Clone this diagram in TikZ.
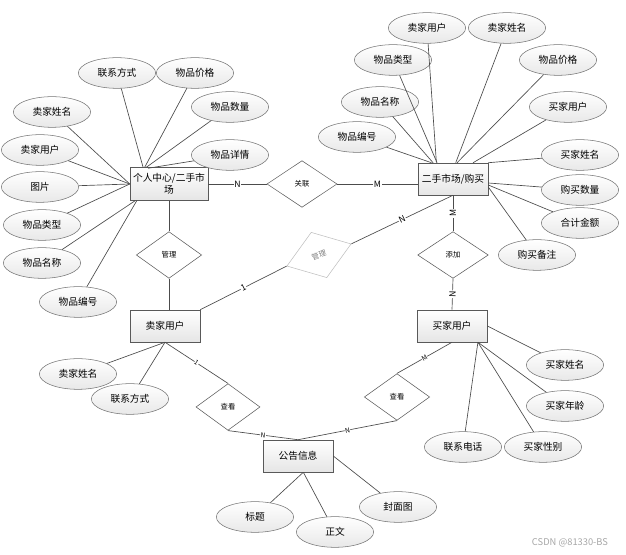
\documentclass[tikz,border=0pt]{standalone}
\usepackage{fontspec}
\newfontfamily\cjk{Noto Sans CJK SC}
\usetikzlibrary{shapes.geometric}

\begin{document}
\begin{tikzpicture}[x=0.75pt,y=-0.75pt,font=\cjk\fontsize{7.3}{9}\selectfont,
	ent/.style={draw=black!65,top color=white,bottom color=black!10,minimum width=52.5pt,minimum height=24pt,inner sep=1pt,align=center},
	att/.style={ellipse,draw=black!55,top color=white,bottom color=black!9,minimum width=58pt,minimum height=23pt,inner sep=0pt},
	rel/.style={diamond,draw=black!65,fill=white,minimum width=52pt,minimum height=35pt,inner sep=0pt,font=\cjk\fontsize{5.5}{6}\selectfont},
	lnk/.style={draw=black!70,line width=0.5pt},
	card/.style={fill=white,inner sep=0.5pt,font=\cjk\fontsize{6.5}{7}\selectfont},
	cardsm/.style={fill=white,inner sep=0.3pt,font=\cjk\fontsize{5}{5}\selectfont}]
%	\draw [help lines] (0,0) grid (626,555);
	\useasboundingbox (0,0) rectangle (626,555);
	% entities
	\node [ent, minimum width=58.5pt, minimum height=24.75pt] (pc) at (169,184) {个人中心/二手市\\场};
	\node [ent] (mk) at (453,179) {二手市场/购买};
	\node [ent] (sb) at (165,326) {卖家用户};
	\node [ent] (bb) at (452,326) {买家用户};
	\node [ent] (nb) at (298,456) {公告信息};
	% relations
	\node [rel, minimum width=52.5pt] (gl) at (302,184) {关联};
	\node [rel, minimum width=49pt] (gm) at (169,255) {管理};
	\node [rel, draw=black!25, text=black!50, minimum width=51pt, minimum height=36pt, rotate=19] (rm) at (319,255) {管理};
	\node [rel, minimum width=53pt] (tj) at (453,255) {添加};
	\node [rel, minimum width=48pt] (ck1) at (228,407) {查看};
	\node [rel, minimum width=49pt] (ck2) at (397,397) {查看};
	% attributes of pc
	\node [att] (pc1) at (117,73) {联系方式};
	\node [att] (pc2) at (195,73) {物品价格};
	\node [att] (pc3) at (230,107) {物品数量};
	\node [att] (pc4) at (230,155) {物品详情};
	\node [att] (pc5) at (52,112) {卖家姓名};
	\node [att] (pc6) at (40,150) {卖家用户};
	\node [att] (pc7) at (40,187) {图片};
	\node [att] (pc8) at (42,225) {物品类型};
	\node [att] (pc9) at (42,263) {物品名称};
	\node [att] (pc10) at (78,302) {物品编号};
	% attributes of mk
	\node [att] (mk1) at (427,28) {卖家用户};
	\node [att] (mk2) at (507,28) {卖家姓名};
	\node [att] (mk3) at (393,60) {物品类型};
	\node [att] (mk4) at (558,60) {物品价格};
	\node [att] (mk5) at (380,102) {物品名称};
	\node [att] (mk6) at (568,107) {买家用户};
	\node [att] (mk7) at (357,137) {物品编号};
	\node [att] (mk8) at (580,155) {买家姓名};
	\node [att] (mk9) at (580,190) {购买数量};
	\node [att] (mk10) at (580,223) {合计金额};
	\node [att] (mk11) at (537,255) {购买备注};
	% attributes of sb, bb, nb
	\node [att] (sb1) at (78,374) {卖家姓名};
	\node [att] (sb2) at (130,399) {联系方式};
	\node [att] (bb1) at (565,365) {买家姓名};
	\node [att] (bb2) at (565,406) {买家年龄};
	\node [att] (bb3) at (463,447) {联系电话};
	\node [att] (bb4) at (543,447) {买家性别};
	\node [att] (nb1) at (255,517) {标题};
	\node [att] (nb2) at (335,532) {正文};
	\node [att] (nb3) at (398,507) {封面图};
	% attribute lines
	\draw [lnk] (pc1) -- ([xshift=10pt]pc.north west);
	\draw [lnk] (pc2) -- ([xshift=11.25pt]pc.north west);
	\draw [lnk] (pc3) -- ([xshift=12.5pt]pc.north west);
	\draw [lnk] (pc4) -- ([xshift=13.75pt,yshift=-0.75pt]pc.north west);
	\foreach \a in {pc5,pc6,pc7,pc8}
		\draw [lnk] (\a) -- (pc.west);
	\draw [lnk] (pc9) -- ([xshift=4pt]pc.south west);
	\draw [lnk] (pc10) -- ([xshift=5.25pt]pc.south west);
	\draw [lnk] (mk7) -- ([xshift=10.3pt]mk.north west);
	\draw [lnk] (mk5) -- ([xshift=11.5pt]mk.north west);
	\draw [lnk] (mk3) -- ([xshift=14.5pt]mk.north west);
	\draw [lnk] (mk1) -- ([xshift=14pt]mk.north west);
	\draw [lnk] (mk2) -- ([xshift=28.5pt]mk.north west);
	\draw [lnk] (mk4) -- ([xshift=29.5pt]mk.north west);
	\draw [lnk] (mk6) -- ([xshift=41.5pt]mk.north west);
	\draw [lnk] (mk8) -- (mk.north east);
	\draw [lnk] (mk9) -- ([yshift=-3pt]mk.east);
	\draw [lnk] (mk10) -- ([yshift=-4.5pt]mk.east);
	\draw [lnk] (mk11) -- ([yshift=-6pt]mk.east);
	\draw [lnk] (sb1) -- (sb.south);
	\draw [lnk] (sb2) -- (sb.south);
	\draw [lnk] (bb1) -- (bb.east);
	\foreach \a in {bb2,bb3,bb4}
		\draw [lnk] (\a) -- ([xshift=-7pt]bb.south east);
	\draw [lnk] (nb1) -- ([xshift=4pt]nb.south);
	\draw [lnk] (nb2) -- ([xshift=4pt]nb.south);
	\draw [lnk] (nb3) -- (nb.east);
	% relation lines
	\draw [lnk] (pc.east) -- (gl.west) node [pos=0.5, card] {N};
	\draw [lnk] (gl.east) -- (gl.east -| mk.west) node [pos=0.5, card] {M};
	\draw [lnk] (pc.south) -- (gm.north);
	\draw [lnk] (gm.south) -- (gm.south |- sb.north);
	\draw [lnk] (sb.north east) -- (rm.west) node [pos=0.5, sloped, card] {1};
	\draw [lnk] (rm.east) -- (mk.south) node [pos=0.5, sloped, card] {N};
	\draw [lnk] (tj.north) -- (mk.south) node [pos=0.5, sloped, card] {M};
	\draw [lnk] (tj.south) -- (bb.north) node [pos=0.5, sloped, card] {N};
	\draw [lnk] (sb.south) -- (ck1.north) node [pos=0.5, sloped, cardsm] {1};
	\draw [lnk] (ck1.south) -- (nb.north) node [pos=0.5, sloped, cardsm] {N};
	\draw [lnk] (nb.north) -- (ck2.south) node [pos=0.5, sloped, cardsm] {N};
	\draw [lnk] (ck2.north) -- (bb.south) node [pos=0.5, sloped, cardsm] {M};
	% watermark
	\node [text=black!35, font=\cjk\fontsize{7}{8}\selectfont] (wm) at (570,543) {CSDN @81330-BS};
\end{tikzpicture}
\end{document}
